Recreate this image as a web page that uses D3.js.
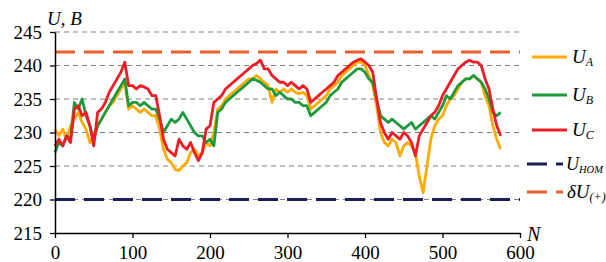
<!DOCTYPE html>
<html><head><meta charset="utf-8">
<script src="https://cdn.jsdelivr.net/npm/d3@7"></script>
<style>
html,body{margin:0;padding:0;background:#fff;}
</style></head>
<body><svg id="c" width="606" height="262"></svg>
<script>
const FONT = "Liberation Serif";
const step = 5;
const uA = [230.5,229.5,230.5,229.0,231.0,232.0,233.0,231.5,230.5,228.5,229.5,231.0,232.0,233.0,234.0,234.5,235.5,236.5,237.5,233.5,
234.0,233.5,233.0,233.5,233.0,232.5,232.5,230.5,227.5,226.0,225.5,224.5,224.3,225.0,225.5,227.0,227.5,226.5,227.0,228.5,
228.0,230.0,233.5,234.0,235.0,235.5,236.0,236.5,237.0,237.5,238.0,238.0,238.5,238.0,237.5,237.0,234.5,236.5,236.0,236.5,
236.0,236.5,236.0,235.8,236.0,235.5,233.5,234.0,234.5,235.0,235.5,236.5,237.0,237.5,238.5,239.0,239.5,240.0,240.5,240.5,
240.0,238.5,237.0,234.0,230.0,228.5,228.0,229.0,228.5,226.5,228.0,228.5,228.0,227.0,223.5,221.0,225.0,229.0,231.0,232.0,
232.5,234.0,235.0,235.5,236.5,237.5,238.0,238.0,238.5,238.0,237.5,235.5,234.0,231.0,229.0,227.5];
const uB = [227.0,228.5,228.0,229.5,229.0,234.5,233.5,235.0,232.5,231.0,229.0,231.0,232.0,233.0,234.0,235.0,236.0,237.0,238.0,234.0,
234.5,234.5,234.0,234.5,234.0,233.5,233.5,232.0,230.0,231.0,232.0,231.5,232.0,233.0,232.0,231.0,230.0,229.5,229.5,228.5,
229.0,228.0,233.0,233.5,234.5,235.0,235.5,236.0,236.5,237.0,237.5,238.0,237.8,237.5,237.0,236.5,236.5,235.5,236.0,235.5,
235.0,235.0,234.5,234.5,234.0,234.0,232.5,233.0,233.5,234.0,234.5,235.5,236.0,236.5,237.5,238.0,238.5,239.0,239.5,239.5,
239.0,238.0,237.5,235.0,232.5,232.0,231.5,232.0,231.5,231.0,230.5,231.0,231.5,230.5,231.0,231.5,232.0,232.5,232.0,233.0,
234.0,235.5,235.0,236.0,237.0,237.5,238.0,238.0,238.5,238.0,237.5,236.5,235.0,233.0,232.5,233.0];
const uC = [228.0,229.0,228.0,229.5,228.5,233.5,234.0,232.5,233.0,231.0,228.0,233.0,233.5,234.5,236.0,237.0,238.0,239.0,240.5,237.0,
237.0,236.5,237.0,236.8,236.5,235.5,235.5,232.5,229.0,227.5,227.0,226.5,229.0,228.0,227.5,228.5,227.0,225.8,227.0,230.5,
231.0,234.5,235.0,235.5,236.5,237.0,237.5,238.0,238.5,239.0,239.5,240.0,240.3,240.8,239.5,239.5,238.5,238.0,237.5,237.5,
237.0,237.5,237.0,236.5,237.0,236.5,234.5,235.0,235.5,236.0,236.5,237.0,237.5,238.5,239.0,239.5,240.0,240.5,240.8,241.0,
240.5,240.0,239.0,235.0,231.5,230.0,229.0,230.0,229.5,229.0,230.0,229.5,228.5,226.5,229.5,230.5,231.5,232.5,233.0,234.0,
235.5,236.5,237.5,238.5,239.5,240.0,240.5,240.8,240.5,240.5,240.0,238.0,236.5,233.5,231.0,229.5];
const uNom = 220;
const uPlus = 242;
const xTicks = [0,100,200,300,400,500,600];
const yTicks = [215,220,225,230,235,240,245];
const gridVals = [220,225,230,235,240,245];
const seriesNames = ["A","B","C"];
const seriesColors = ["#FFAA00","#1E9A3C","#EE1C24"];

const svg = d3.select("#c");
const L = 55, R = 520, T = 32, B = 233;
const x = d3.scaleLinear().domain([0,600]).range([L,R]);
const y = d3.scaleLinear().domain([215,245]).range([B,T]);

svg.append("g").selectAll("line").data(gridVals).join("line")
  .attr("x1",L).attr("x2",R).attr("y1",d=>y(d)).attr("y2",d=>y(d))
  .attr("stroke","#808080").attr("stroke-width",1).attr("stroke-dasharray","5,4");

svg.append("line").attr("x1",L).attr("x2",R).attr("y1",y(uPlus)).attr("y2",y(uPlus))
  .attr("stroke","#E8622A").attr("stroke-width",3).attr("stroke-dasharray","20,9");
svg.append("line").attr("x1",L).attr("x2",R).attr("y1",y(uNom)).attr("y2",y(uNom))
  .attr("stroke","#1A1F5C").attr("stroke-width",3).attr("stroke-dasharray","20,9");

const line = d3.line().x((d,i)=>x(i*step)).y(d=>y(d));
[uA,uB,uC].forEach((s,k)=>{
  svg.append("path").datum(s).attr("d",line).attr("fill","none")
    .attr("stroke",seriesColors[k]).attr("stroke-width",2.8).attr("stroke-linejoin","round");
});

const ax = svg.append("g").attr("transform",`translate(0,${B})`)
  .call(d3.axisBottom(x).tickValues(xTicks).tickSize(5).tickPadding(8).tickSizeOuter(0));
const ay = svg.append("g").attr("transform",`translate(${L},0)`)
  .call(d3.axisLeft(y).tickValues(yTicks).tickSize(5).tickPadding(8).tickSizeOuter(0));
[ax,ay].forEach(g=>{
  g.attr("font-family",FONT).attr("font-size",19);
  g.selectAll("path").attr("stroke","#000").attr("stroke-width",1.5);
  g.selectAll("line").attr("stroke","#000").attr("stroke-width",1.3);
  g.selectAll("text").attr("fill","#000");
});

svg.append("text").attr("x",47).attr("y",25).attr("font-family",FONT).attr("font-style","italic").attr("font-size",19).text("U, B");
svg.append("text").attr("x",527).attr("y",241).attr("font-family",FONT).attr("font-style","italic").attr("font-size",20).text("N");

const lg = svg.append("g").attr("font-family",FONT);
const legY = [57,95,130];
seriesNames.forEach((n,k)=>{
  lg.append("line").attr("x1",532).attr("x2",567).attr("y1",legY[k]).attr("y2",legY[k])
    .attr("stroke",seriesColors[k]).attr("stroke-width",3);
  const t = lg.append("text").attr("x",572).attr("y",legY[k]+6).attr("font-style","italic").attr("font-size",19);
  t.append("tspan").text("U");
  t.append("tspan").attr("font-size",12).attr("dy",3).text(n);
});
lg.append("line").attr("x1",527).attr("x2",563).attr("y1",164).attr("y2",164)
  .attr("stroke","#1A1F5C").attr("stroke-width",3).attr("stroke-dasharray","20,9");
const t1 = lg.append("text").attr("x",566).attr("y",170).attr("font-style","italic").attr("font-size",18);
t1.append("tspan").text("U");
t1.append("tspan").attr("font-size",10.5).attr("dy",3).text("HOM");
lg.append("line").attr("x1",527).attr("x2",563).attr("y1",192).attr("y2",192)
  .attr("stroke","#E8622A").attr("stroke-width",3).attr("stroke-dasharray","20,9");
const t2 = lg.append("text").attr("x",567).attr("y",198).attr("font-style","italic").attr("font-size",19);
t2.append("tspan").text("δU");
t2.append("tspan").attr("font-size",12).attr("dy",3).text("(+)");
</script></body></html>
